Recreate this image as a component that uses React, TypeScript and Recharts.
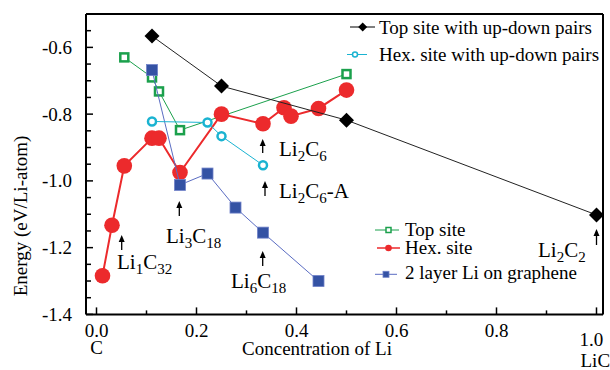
import React from 'react'
import { ScatterChart, Scatter, XAxis, YAxis } from 'recharts'

const FONT = '"Liberation Serif", "Times New Roman", serif'
const serif = { fontFamily: FONT }

// concentration of Li (x) vs energy in eV/Li-atom (y)
const topPairsX = [0.111, 0.25, 0.5, 1.0]
const topPairsY = [-0.566, -0.716, -0.818, -1.102]
const hexPairsX = [0.111, 0.222, 0.25, 0.333]
const hexPairsY = [-0.822, -0.825, -0.866, -0.953]
const topSiteX = [0.0556, 0.111, 0.125, 0.167, 0.5]
const topSiteY = [-0.63, -0.69, -0.732, -0.848, -0.68]
const hexSiteX = [0.012, 0.031, 0.0556, 0.111, 0.125, 0.167, 0.25, 0.333, 0.375, 0.389, 0.444, 0.5]
const hexSiteY = [-1.284, -1.133, -0.955, -0.872, -0.872, -0.975, -0.8, -0.829, -0.781, -0.806, -0.783, -0.728]
const layer2X = [0.111, 0.167, 0.222, 0.278, 0.333, 0.444]
const layer2Y = [-0.668, -1.012, -0.978, -1.08, -1.155, -1.3]

const xTicks = [0, 0.1, 0.2, 0.3, 0.4, 0.5, 0.6, 0.7, 0.8, 0.9, 1.0]
const xLabels = ['0.0', '', '0.2', '', '0.4', '', '0.6', '', '0.8', '', '1.0']
const xSubLabels = ['C', '', '', '', '', '', '', '', '', '', 'LiC']
const yTicks = [-1.4, -1.35, -1.3, -1.25, -1.2, -1.15, -1.1, -1.05, -1.0, -0.95, -0.9, -0.85, -0.8, -0.75, -0.7, -0.65, -0.6, -0.55]
const yLabels = ['-1.4', '', '', '', '-1.2', '', '', '', '-1.0', '', '', '', '-0.8', '', '', '', '-0.6', '']

const zip = (xs: number[], ys: number[]) => xs.map((x, i) => ({ x, y: ys[i] }))

const RED = '#ec2a2c'
const GREEN = '#1ba04c'
const CYAN = '#1ab3d1'
const BLUE = '#3452a4'
const BLUE_LINE = '#5a6cc2'

const diamond = (cx: number, cy: number, r: number) => (
  <polygon points={`${cx},${cy - r} ${cx + r},${cy} ${cx},${cy + r} ${cx - r},${cy}`} fill="#000" />
)
const openSquare = (cx: number, cy: number, s: number, w: number) => (
  <rect x={cx - s / 2} y={cy - s / 2} width={s} height={s} fill="#fff" stroke={GREEN} strokeWidth={w} />
)
const openCircle = (cx: number, cy: number, r: number, w: number) => (
  <circle cx={cx} cy={cy} r={r} fill="#fff" stroke={CYAN} strokeWidth={w} />
)
const dotCircle = (cx: number, cy: number, r: number) => <circle cx={cx} cy={cy} r={r} fill={RED} />
const fillSquare = (cx: number, cy: number, s: number) => (
  <rect x={cx - s / 2} y={cy - s / 2} width={s} height={s} fill={BLUE} stroke="#6f80c8" strokeWidth={0.8} />
)

function XTick(props: any) {
  const { x, y, index } = props
  const label = xLabels[index]
  const len = label ? 7 : 4
  const last = index === xTicks.length - 1
  return (
    <g>
      <line x1={x} y1={y} x2={x} y2={y - len} stroke="#000" strokeWidth={1.5} />
      {label && (
        <text x={last ? x - 17 : x} y={y + (last ? 32 : 23)} textAnchor={last ? 'start' : 'middle'}
          style={serif} fontSize={19} fill="#000">{label}</text>
      )}
      {xSubLabels[index] && (
        <text x={last ? x - 16 : x} y={y + (last ? 53 : 40)} textAnchor={last ? 'start' : 'middle'}
          style={serif} fontSize={19} fill="#000">{xSubLabels[index]}</text>
      )}
    </g>
  )
}

function YTick(props: any) {
  const { x, y, index } = props
  const label = yLabels[index]
  const len = label ? 7 : 5
  return (
    <g>
      <line x1={x} y1={y} x2={x + len} y2={y} stroke="#000" strokeWidth={1.5} />
      {label && (
        <text x={x - 14} y={y + 6.5} textAnchor="end" style={serif} fontSize={19} fill="#000">{label}</text>
      )}
    </g>
  )
}

// chemical formula: [text, isSubscript]
function Formula({ x, y, parts }: { x: number; y: number; parts: [string, boolean][] }) {
  let prev = false
  return (
    <text x={x} y={y} style={serif} fontSize={21} fill="#000">
      {parts.map(([t, sub], i) => {
        const dy = sub && !prev ? 5 : !sub && prev ? -5 : 0
        prev = sub
        return <tspan key={i} dy={dy} fontSize={sub ? 15 : 21}>{t}</tspan>
      })}
    </text>
  )
}

function Arrow({ x, y1, y2 }: { x: number; y1: number; y2: number }) {
  return (
    <g>
      <line x1={x} y1={y1 + 5} x2={x} y2={y2} stroke="#000" strokeWidth={1.3} />
      <polygon points={`${x},${y1} ${x - 3},${y1 + 7} ${x + 3},${y1 + 7}`} fill="#000" />
    </g>
  )
}

const annotations: { ax: number; ay1: number; ay2: number; lx: number; ly: number; parts: [string, boolean][] }[] = [
  { ax: 121.7, ay1: 235, ay2: 250, lx: 117, ly: 269, parts: [['Li', false], ['1', true], ['C', false], ['32', true]] },
  { ax: 179.3, ay1: 201, ay2: 216, lx: 166, ly: 243, parts: [['Li', false], ['3', true], ['C', false], ['18', true]] },
  { ax: 262.7, ay1: 251, ay2: 266, lx: 231, ly: 288, parts: [['Li', false], ['6', true], ['C', false], ['18', true]] },
  { ax: 262.7, ay1: 139, ay2: 153, lx: 279, ly: 156, parts: [['Li', false], ['2', true], ['C', false], ['6', true]] },
  { ax: 265, ay1: 181, ay2: 196, lx: 279, ly: 198, parts: [['Li', false], ['2', true], ['C', false], ['6', true], ['-A', false]] },
  { ax: 596.5, ay1: 229, ay2: 245, lx: 538, ly: 257, parts: [['Li', false], ['2', true], ['C', false], ['2', true]] },
]

function Overlay() {
  const t = { style: serif, fontSize: 19, fill: '#000' }
  return (
    <svg width={610} height={370} style={{ position: 'absolute', left: 0, top: 0, pointerEvents: 'none' }}>
      {annotations.map((a, i) => (
        <g key={i}>
          <Arrow x={a.ax} y1={a.ay1} y2={a.ay2} />
          <Formula x={a.lx} y={a.ly} parts={a.parts} />
        </g>
      ))}
      {/* upper legend */}
      <line x1={350} y1={27} x2={375} y2={27} stroke="#000" strokeWidth={1} />
      {diamond(362.7, 27, 4.5)}
      <text x={379} y={33.5} {...t}>Top site with up-down pairs</text>
      <line x1={347} y1={54.5} x2={367} y2={54.5} stroke={CYAN} strokeWidth={1} />
      {openCircle(355, 54.5, 2.5, 1.5)}
      <text x={379} y={61} {...t}>Hex. site with up-down pairs</text>
      {/* lower legend */}
      <line x1={375} y1={230} x2={399} y2={230} stroke={GREEN} strokeWidth={1} />
      {openSquare(388.5, 230, 5, 1.5)}
      <text x={405} y={235.5} {...t}>Top site</text>
      <line x1={377} y1={248} x2={400} y2={248} stroke={RED} strokeWidth={1.5} />
      {dotCircle(388.5, 248, 3.3)}
      <text x={405} y={254} {...t}>Hex. site</text>
      <line x1={375} y1={274.3} x2={397} y2={274.3} stroke={BLUE_LINE} strokeWidth={1} />
      {fillSquare(386, 274.3, 6)}
      <text x={405} y={279} {...t}>2 layer Li on graphene</text>
    </svg>
  )
}

export default function App() {
  const xDomain = [-0.021, 1.013]
  const yDomain = [-1.4, -0.5]
  return (
    <div style={{ position: 'absolute', left: 0, top: 0, width: 610, height: 370, background: '#fff', fontFamily: FONT }}>
      <ScatterChart width={610} height={370} margin={{ top: 13, right: 6, bottom: 54.6, left: 85 }}>
        <XAxis type="number" dataKey="x" domain={xDomain} allowDataOverflow ticks={xTicks} interval={0}
          height={1} tickSize={0} tickMargin={0} tickLine={false} tick={<XTick />}
          axisLine={{ stroke: '#000', strokeWidth: 2 }} />
        <XAxis xAxisId="top" orientation="top" type="number" domain={xDomain} allowDataOverflow height={1}
          tick={false} tickLine={false} axisLine={{ stroke: '#000', strokeWidth: 2 }} />
        <YAxis type="number" dataKey="y" domain={yDomain} allowDataOverflow ticks={yTicks} interval={0}
          width={1} tickSize={0} tickMargin={0} tickLine={false} tick={<YTick />}
          axisLine={{ stroke: '#000', strokeWidth: 2 }} />
        <YAxis yAxisId="right" orientation="right" type="number" domain={yDomain} allowDataOverflow width={1}
          tick={false} tickLine={false} axisLine={{ stroke: '#000', strokeWidth: 2 }} />
        <text x={20} y={216} transform="rotate(-90 20 216)" textAnchor="middle" dominantBaseline="central"
          style={serif} fontSize={19} fill="#000">Energy (eV/Li-atom)</text>
        <text x={317} y={355} textAnchor="middle" style={serif} fontSize={19} fill="#000">Concentration of Li</text>
        <Scatter name="Top site" data={zip(topSiteX, topSiteY)} isAnimationActive={false}
          line={{ stroke: GREEN, strokeWidth: 1 }} shape={(p: any) => openSquare(p.cx, p.cy, 8, 2.5)} />
        <Scatter name="Hex. site" data={zip(hexSiteX, hexSiteY)} isAnimationActive={false}
          line={{ stroke: RED, strokeWidth: 2 }} shape={(p: any) => dotCircle(p.cx, p.cy, 7.8)} />
        <Scatter name="2 layer Li on graphene" data={zip(layer2X, layer2Y)} isAnimationActive={false}
          line={{ stroke: BLUE_LINE, strokeWidth: 1 }} shape={(p: any) => fillSquare(p.cx, p.cy, 11)} />
        <Scatter name="Hex. site with up-down pairs" data={zip(hexPairsX, hexPairsY)} isAnimationActive={false}
          line={{ stroke: CYAN, strokeWidth: 1 }} shape={(p: any) => openCircle(p.cx, p.cy, 4, 2.5)} />
        <Scatter name="Top site with up-down pairs" data={zip(topPairsX, topPairsY)} isAnimationActive={false}
          line={{ stroke: '#222', strokeWidth: 1 }} shape={(p: any) => diamond(p.cx, p.cy, 7.5)} />
      </ScatterChart>
      <Overlay />
    </div>
  )
}
